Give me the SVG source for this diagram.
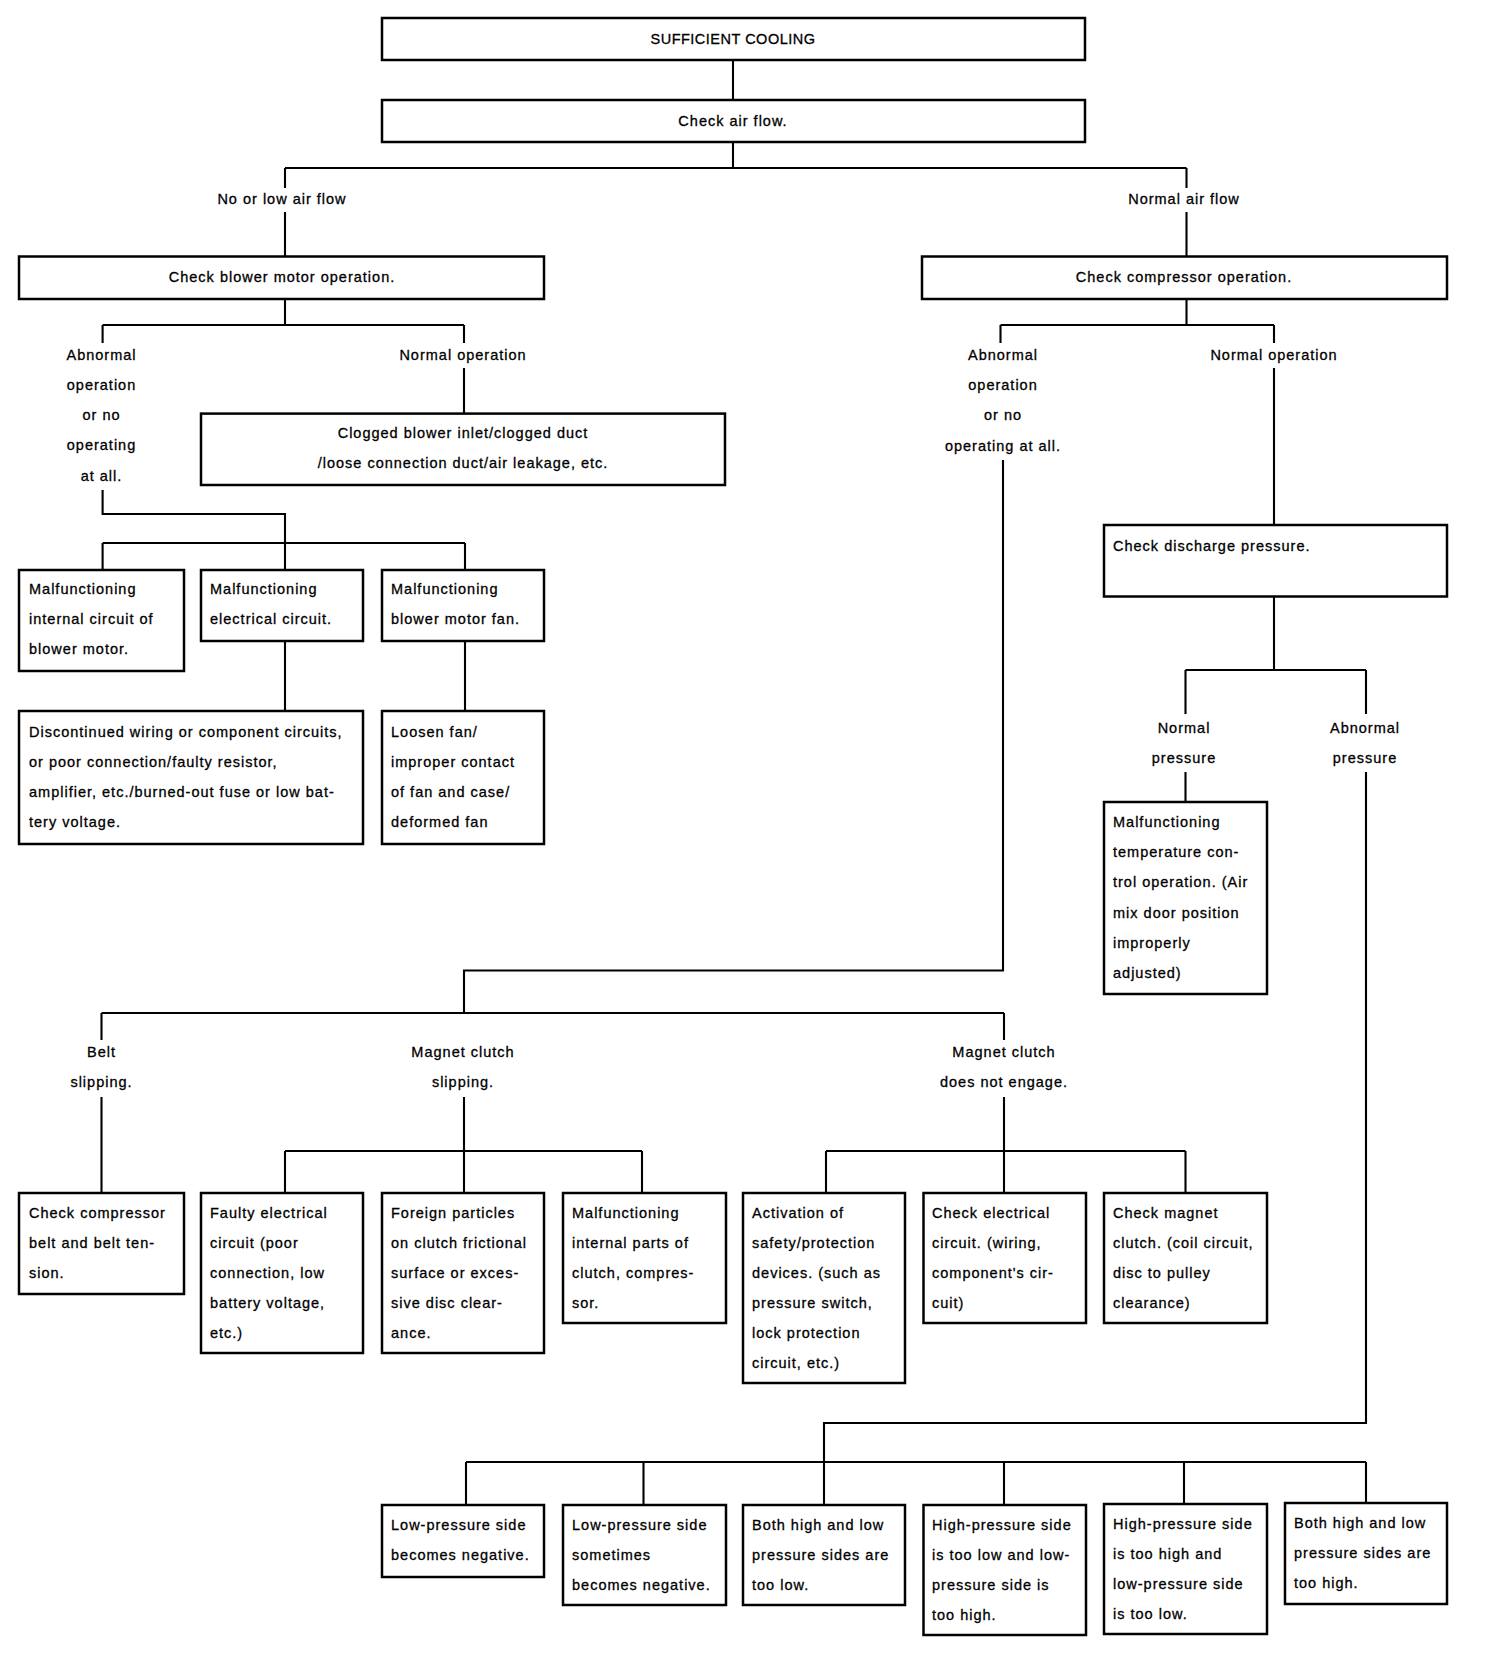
<svg xmlns="http://www.w3.org/2000/svg" width="1504" height="1676" viewBox="0 0 1504 1676">
<style>
.box{fill:#fff;stroke:#000;stroke-width:2.5}
.ln{fill:none;stroke:#000;stroke-width:2.1}
text{font-family:"Liberation Sans",Arial,Helvetica,sans-serif;font-size:14.5px;letter-spacing:1px;fill:#000;stroke:#000;stroke-width:0.3;dominant-baseline:central}
.c{text-anchor:middle}
</style>
<rect width="1504" height="1676" fill="#fff"/>
<g id="connectors">
<path class="ln" d="M733,60 V100"/>
<path class="ln" d="M733,142 V168 M285,168 H1186.5 M285,168 V188 M285,212 V256.5 M1186.5,168 V188 M1186.5,212 V256.5"/>
<path class="ln" d="M285,299 V325 M102.6,325 H464 M102.6,325 V343 M464,325 V343 M464,368 V413.6"/>
<path class="ln" d="M102.6,490 V514 H285 V570 M102.6,543 H465 M102.6,543 V570 M465,543 V570"/>
<path class="ln" d="M285,641 V711 M465,641 V711"/>
<path class="ln" d="M1186.5,299 V325 M1000.5,325 H1274 M1000.5,325 V343 M1274,325 V343 M1274,368 V525"/>
<path class="ln" d="M1003,460 V970.5 H464 V1013 M101.5,1013 H1004 M101.5,1013 V1040 M1004,1013 V1040"/>
<path class="ln" d="M101.5,1097 V1193 M464,1097 V1193 M285,1151 H642 M285,1151 V1193 M642,1151 V1193"/>
<path class="ln" d="M1004,1097 V1193 M826,1151 H1185.5 M826,1151 V1193 M1185.5,1151 V1193"/>
<path class="ln" d="M1274,596.5 V670 M1185.5,670 H1366 M1185.5,670 V714 M1366,670 V714 M1185.5,772 V802"/>
<path class="ln" d="M1366,772 V1423 H824 V1505 M466,1462 H1366 M466,1462 V1505 M643.5,1462 V1505 M1004,1462 V1505 M1184,1462 V1505 M1366,1462 V1503"/>
</g>
<g id="labels">
<text class="c" x="282" y="199">No or low air flow</text>
<text class="c" x="1184" y="199">Normal air flow</text>
<text class="c" x="101.5" y="355">Abnormal</text>
<text class="c" x="101.5" y="385">operation</text>
<text class="c" x="101.5" y="415">or no</text>
<text class="c" x="101.5" y="445">operating</text>
<text class="c" x="101.5" y="476">at all.</text>
<text class="c" x="463" y="355">Normal operation</text>
<text class="c" x="1003" y="355">Abnormal</text>
<text class="c" x="1003" y="385">operation</text>
<text class="c" x="1003" y="415">or no</text>
<text class="c" x="1003" y="446">operating at all.</text>
<text class="c" x="1274" y="355">Normal operation</text>
<text class="c" x="1184" y="728">Normal</text>
<text class="c" x="1184" y="758">pressure</text>
<text class="c" x="1365" y="728">Abnormal</text>
<text class="c" x="1365" y="758">pressure</text>
<text class="c" x="101.5" y="1052">Belt</text>
<text class="c" x="101.5" y="1082">slipping.</text>
<text class="c" x="463" y="1052">Magnet clutch</text>
<text class="c" x="463" y="1082">slipping.</text>
<text class="c" x="1004" y="1052">Magnet clutch</text>
<text class="c" x="1004" y="1082">does not engage.</text>
</g>
<g id="n-sufficient"><rect class="box" x="382" y="18" width="703" height="42"/><text class="c" x="733" y="39" style="letter-spacing:0.5px">SUFFICIENT COOLING</text></g>
<g id="n-airflow"><rect class="box" x="382" y="100" width="703" height="42"/><text class="c" x="733" y="121">Check air flow.</text></g>
<g id="n-blower"><rect class="box" x="19" y="256.5" width="525" height="42.5"/><text class="c" x="282" y="277">Check blower motor operation.</text></g>
<g id="n-compressor"><rect class="box" x="922" y="256.5" width="525" height="42.5"/><text class="c" x="1184" y="277">Check compressor operation.</text></g>
<g id="n-clogged"><rect class="box" x="201" y="413.6" width="524" height="71.4"/><text class="c" x="463" y="433">Clogged blower inlet/clogged duct</text><text class="c" x="463" y="463">/loose connection duct/air leakage, etc.</text></g>
<g id="n-int-circuit"><rect class="box" x="19" y="570" width="165" height="101"/><text x="29" y="589">Malfunctioning</text><text x="29" y="619">internal circuit of</text><text x="29" y="649">blower motor.</text></g>
<g id="n-elec-circuit"><rect class="box" x="201" y="570" width="162" height="71"/><text x="210" y="589">Malfunctioning</text><text x="210" y="619">electrical circuit.</text></g>
<g id="n-fan"><rect class="box" x="382" y="570" width="162" height="71"/><text x="391" y="589">Malfunctioning</text><text x="391" y="619">blower motor fan.</text></g>
<g id="n-discontinued"><rect class="box" x="19" y="711" width="344" height="133"/><text x="29" y="732">Discontinued wiring or component circuits,</text><text x="29" y="762">or poor connection/faulty resistor,</text><text x="29" y="792">amplifier, etc./burned-out fuse or low bat-</text><text x="29" y="822">tery voltage.</text></g>
<g id="n-loosen"><rect class="box" x="382" y="711" width="162" height="133"/><text x="391" y="732">Loosen fan/</text><text x="391" y="762">improper contact</text><text x="391" y="792">of fan and case/</text><text x="391" y="822">deformed fan</text></g>
<g id="n-discharge"><rect class="box" x="1104" y="525" width="343" height="71.5"/><text x="1113" y="546">Check discharge pressure.</text></g>
<g id="n-temp-control"><rect class="box" x="1104" y="802" width="163" height="192"/><text x="1113" y="822">Malfunctioning</text><text x="1113" y="852">temperature con-</text><text x="1113" y="882">trol operation. (Air</text><text x="1113" y="913">mix door position</text><text x="1113" y="943">improperly</text><text x="1113" y="973">adjusted)</text></g>
<g id="n-belt"><rect class="box" x="19" y="1193" width="165" height="101"/><text x="29" y="1213">Check compressor</text><text x="29" y="1243">belt and belt ten-</text><text x="29" y="1273">sion.</text></g>
<g id="n-faulty"><rect class="box" x="201" y="1193" width="162" height="160"/><text x="210" y="1213">Faulty electrical</text><text x="210" y="1243">circuit (poor</text><text x="210" y="1273">connection, low</text><text x="210" y="1303">battery voltage,</text><text x="210" y="1333">etc.)</text></g>
<g id="n-foreign"><rect class="box" x="382" y="1193" width="162" height="160"/><text x="391" y="1213">Foreign particles</text><text x="391" y="1243">on clutch frictional</text><text x="391" y="1273">surface or exces-</text><text x="391" y="1303">sive disc clear-</text><text x="391" y="1333">ance.</text></g>
<g id="n-internal-parts"><rect class="box" x="563" y="1193" width="163" height="130"/><text x="572" y="1213">Malfunctioning</text><text x="572" y="1243">internal parts of</text><text x="572" y="1273">clutch, compres-</text><text x="572" y="1303">sor.</text></g>
<g id="n-activation"><rect class="box" x="743" y="1193" width="162" height="190"/><text x="752" y="1213">Activation of</text><text x="752" y="1243">safety/protection</text><text x="752" y="1273">devices. (such as</text><text x="752" y="1303">pressure switch,</text><text x="752" y="1333">lock protection</text><text x="752" y="1363">circuit, etc.)</text></g>
<g id="n-check-elec"><rect class="box" x="923.5" y="1193" width="162.5" height="130"/><text x="932" y="1213">Check electrical</text><text x="932" y="1243">circuit. (wiring,</text><text x="932" y="1273">component's cir-</text><text x="932" y="1303">cuit)</text></g>
<g id="n-check-magnet"><rect class="box" x="1104" y="1193" width="163" height="130"/><text x="1113" y="1213">Check magnet</text><text x="1113" y="1243">clutch. (coil circuit,</text><text x="1113" y="1273">disc to pulley</text><text x="1113" y="1303">clearance)</text></g>
<g id="n-low-neg"><rect class="box" x="382" y="1505" width="162" height="72"/><text x="391" y="1525">Low-pressure side</text><text x="391" y="1555">becomes negative.</text></g>
<g id="n-low-sometimes"><rect class="box" x="563" y="1505" width="163" height="100"/><text x="572" y="1525">Low-pressure side</text><text x="572" y="1555">sometimes</text><text x="572" y="1585">becomes negative.</text></g>
<g id="n-both-low"><rect class="box" x="743" y="1505" width="162" height="100"/><text x="752" y="1525">Both high and low</text><text x="752" y="1555">pressure sides are</text><text x="752" y="1585">too low.</text></g>
<g id="n-high-low"><rect class="box" x="923.5" y="1505" width="162.5" height="130"/><text x="932" y="1525">High-pressure side</text><text x="932" y="1555">is too low and low-</text><text x="932" y="1585">pressure side is</text><text x="932" y="1615">too high.</text></g>
<g id="n-high-high"><rect class="box" x="1104" y="1504" width="163" height="130"/><text x="1113" y="1524">High-pressure side</text><text x="1113" y="1554">is too high and</text><text x="1113" y="1584">low-pressure side</text><text x="1113" y="1614">is too low.</text></g>
<g id="n-both-high"><rect class="box" x="1285" y="1503" width="162" height="101"/><text x="1294" y="1523">Both high and low</text><text x="1294" y="1553">pressure sides are</text><text x="1294" y="1583">too high.</text></g>
</svg>
